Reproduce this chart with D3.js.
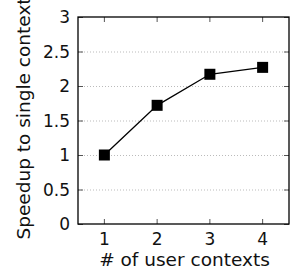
<!DOCTYPE html>
<meta charset="utf-8">
<script src="https://d3js.org/d3.v7.min.js"></script>
<style>
  body { margin: 0; background: #fff; }
  text { font-family: "DejaVu Sans", sans-serif; fill: #111; }
</style>
<div id="chart"></div>
<script>
// data
var contexts = [1, 2, 3, 4];
var speedup = [1.0, 1.72, 2.17, 2.27];
var yTicks = [0, 0.5, 1, 1.5, 2, 2.5, 3];
var yTickLabels = ["0", "0.5", "1", "1.5", "2", "2.5", "3"];

var W = 290, H = 275;
var margin = {top: 17, right: 1, bottom: 51, left: 78},
    width = W - margin.left - margin.right,
    height = H - margin.top - margin.bottom;

var svg = d3.select("#chart").append("svg")
    .attr("width", W).attr("height", H)
  .append("g")
    .attr("transform", "translate(" + margin.left + "," + margin.top + ")");

var x = d3.scaleLinear().domain([0.5, 4.5]).range([0, width]);
var y = d3.scaleLinear().domain([0, 3]).range([height, 0]);

// dotted grid
svg.append("g").selectAll("line")
  .data(yTicks.filter(function(d){ return d > 0 && d < 3; }))
  .enter().append("line")
    .attr("x1", 0).attr("x2", width)
    .attr("y1", function(d){ return y(d) + 0.5; })
    .attr("y2", function(d){ return y(d) + 0.5; })
    .attr("stroke", "#bbb")
    .attr("stroke-dasharray", "1,2");

// ticks (inside, mirrored)
var tl = 5;
var tk = svg.append("g").attr("stroke", "#555").attr("stroke-width", 1);
yTicks.forEach(function(d){
  tk.append("line").attr("x1", 0).attr("x2", tl).attr("y1", y(d) + 0.5).attr("y2", y(d) + 0.5);
  tk.append("line").attr("x1", width - tl).attr("x2", width).attr("y1", y(d) + 0.5).attr("y2", y(d) + 0.5);
});
contexts.forEach(function(d){
  tk.append("line").attr("x1", x(d)).attr("x2", x(d)).attr("y1", height).attr("y2", height - tl);
  tk.append("line").attr("x1", x(d)).attr("x2", x(d)).attr("y1", 0).attr("y2", tl);
});

// frame
svg.append("rect")
  .attr("x", 0).attr("y", 0)
  .attr("width", width).attr("height", height)
  .attr("fill", "none").attr("stroke", "#000").attr("stroke-width", 1.3);

// tick labels
svg.append("g").selectAll("text")
  .data(yTicks).enter().append("text")
    .attr("x", -8)
    .attr("y", function(d){ return y(d); })
    .attr("dy", "0.36em")
    .attr("text-anchor", "end")
    .style("font-size", "17px")
    .text(function(d, i){ return yTickLabels[i]; });

svg.append("g").selectAll("text")
  .data(contexts).enter().append("text")
    .attr("x", function(d){ return x(d); })
    .attr("y", height + 21)
    .attr("text-anchor", "middle")
    .style("font-size", "17px")
    .text(function(d){ return d; });

// axis titles
svg.append("text")
  .attr("x", width / 2 + 1)
  .attr("y", height + 42)
  .attr("text-anchor", "middle")
  .style("font-size", "18.5px")
  .text("# of user contexts");

svg.append("text")
  .attr("transform", "rotate(-90)")
  .attr("x", -height / 2 + 2)
  .attr("y", -margin.left + 30)
  .attr("text-anchor", "middle")
  .style("font-size", "18.5px")
  .text("Speedup to single context");

// line + markers
var pts = contexts.map(function(c, i){ return [c, speedup[i]]; });
svg.append("path")
  .datum(pts)
  .attr("fill", "none").attr("stroke", "#000").attr("stroke-width", 1.3)
  .attr("d", d3.line().x(function(d){ return x(d[0]); }).y(function(d){ return y(d[1]); }));

var s = 11;
svg.append("g").selectAll("rect")
  .data(pts).enter().append("rect")
    .attr("x", function(d){ return x(d[0]) - s / 2; })
    .attr("y", function(d){ return y(d[1]) - s / 2; })
    .attr("width", s).attr("height", s)
    .attr("fill", "#000");
</script>
